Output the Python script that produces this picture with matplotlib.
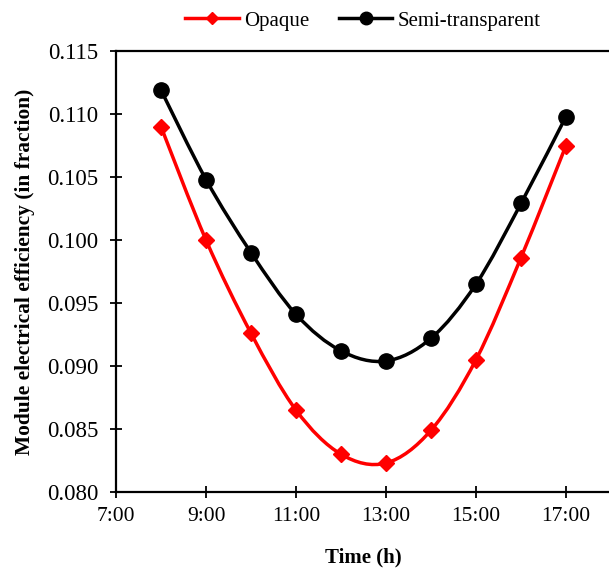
import numpy as np
import matplotlib
matplotlib.use('Agg')
import matplotlib.pyplot as plt
from matplotlib.path import Path
from matplotlib.patches import PathPatch
from matplotlib.lines import Line2D
from matplotlib.ticker import MultipleLocator, FuncFormatter

# hourly module efficiency (fraction)
hours = [8, 9, 10, 11, 12, 13, 14, 15, 16, 17]
opaque = [0.1090, 0.1000, 0.0926, 0.0865, 0.0830, 0.0823, 0.0849, 0.0905, 0.0986, 0.1075]
semi = [0.1119, 0.1048, 0.0990, 0.0941, 0.0912, 0.0904, 0.0922, 0.0965, 0.1029, 0.1098]
xtick_hours = [7, 9, 11, 13, 15, 17]

plt.rcParams['font.family'] = ['Liberation Serif', 'DejaVu Serif']


def smooth_path(x, y):
    # catmull-rom style bezier through every point (like a spreadsheet "smoothed line")
    x = np.asarray(x, float)
    y = np.asarray(y, float)
    verts = [(x[0], y[0])]
    codes = [Path.MOVETO]
    n = len(x)
    for i in range(n - 1):
        p0 = (x[max(i - 1, 0)], y[max(i - 1, 0)])
        p1 = (x[i], y[i])
        p2 = (x[i + 1], y[i + 1])
        p3 = (x[min(i + 2, n - 1)], y[min(i + 2, n - 1)])
        c1 = (p1[0] + (p2[0] - p0[0]) / 6, p1[1] + (p2[1] - p0[1]) / 6)
        c2 = (p2[0] - (p3[0] - p1[0]) / 6, p2[1] - (p3[1] - p1[1]) / 6)
        verts += [c1, c2, p2]
        codes += [Path.CURVE4] * 3
    return Path(verts, codes)


fig = plt.figure(figsize=(6.09, 5.72), dpi=100)
ax = fig.add_axes([116 / 609, 80 / 572, 495 / 609, 441 / 572])

lw = 2.5
for vals, col, mk, ms in [(opaque, 'red', 'D', 8), (semi, 'black', 'o', 11)]:
    ax.add_patch(PathPatch(smooth_path(hours, vals), facecolor='none', edgecolor=col,
                           lw=lw, zorder=2))
    ax.plot(hours, vals, linestyle='none', marker=mk, color=col, markersize=ms, zorder=3)

ax.set_xlim(7, 18)
ax.set_ylim(0.080, 0.115)
ax.set_xticks(xtick_hours)
ax.set_xticklabels(['%d:00' % h for h in xtick_hours])
ax.yaxis.set_major_locator(MultipleLocator(0.005))
ax.yaxis.set_major_formatter(FuncFormatter(lambda v, p: '%.3f' % v))
ax.tick_params(direction='inout', length=9, width=1.3)
ax.tick_params(axis='x', labelsize=15.5, pad=6)
ax.tick_params(axis='y', labelsize=16.5, pad=8)
for s in ax.spines.values():
    s.set_linewidth(1.6)

ax.set_xlabel('Time (h)', fontsize=15, fontweight='bold', labelpad=16)
ax.set_ylabel('Module electrical efficiency (in fraction)', fontsize=15.4,
              fontweight='bold', labelpad=9)

handles = [Line2D([], [], color='red', lw=lw, marker='D', markersize=6.5),
           Line2D([], [], color='black', lw=lw, marker='o', markersize=9)]
fig.legend(handles, ['Opaque', 'Semi-transparent'], loc='center', ncol=2,
           bbox_to_anchor=(363 / 609, 1 - 21 / 572), frameon=False, fontsize=15,
           handlelength=2.55, handletextpad=0.25, columnspacing=1.45)

fig.savefig('out.png', dpi=100)
